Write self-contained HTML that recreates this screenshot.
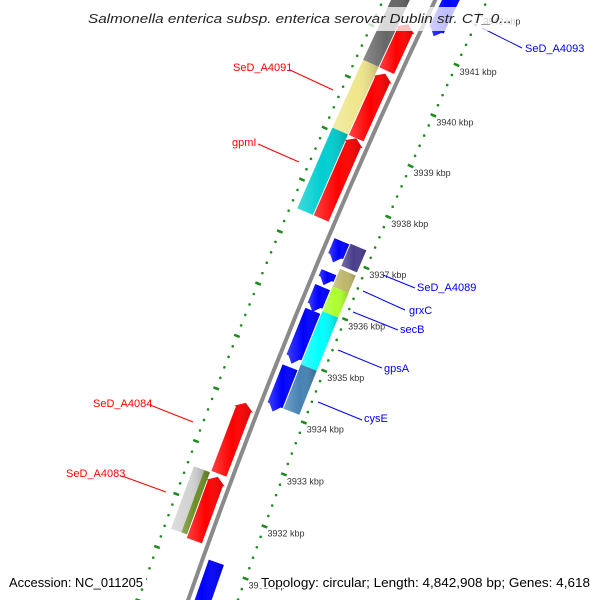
<!DOCTYPE html>
<html><head><meta charset="utf-8"><style>
html,body{margin:0;padding:0;background:#fff;width:600px;height:600px;overflow:hidden}
svg{display:block}
text{font-family:"Liberation Sans",sans-serif}
</style></head><body>
<svg id="map" width="600" height="600" viewBox="0 0 600 600" xmlns="http://www.w3.org/2000/svg">
<defs>
<linearGradient id="shade" x1="0" y1="0" x2="1" y2="0">
<stop offset="0" stop-color="#fff" stop-opacity="0.25"/><stop offset="0.5" stop-color="#fff" stop-opacity="0"/><stop offset="1" stop-color="#000" stop-opacity="0.2"/>
</linearGradient>
</defs>
<g id="rings"></g>
<g id="feats"></g>
<g id="labels"></g>
<rect x="84" y="7" width="432" height="24" fill="#fff" fill-opacity="0.75"/>
<text x="300" y="23" text-anchor="middle" font-size="13" font-style="italic" fill="#222" textLength="424" lengthAdjust="spacingAndGlyphs">Salmonella enterica subsp. enterica serovar Dublin str. CT_0...</text>
<rect x="6" y="570" width="140" height="18" fill="#fff"/>
<text x="9" y="587" font-size="13" fill="#000" textLength="134" lengthAdjust="spacingAndGlyphs">Accession: NC_011205</text>
<rect x="259" y="570" width="335" height="18" fill="#fff"/>
<text x="261" y="587" font-size="13" fill="#000" textLength="329" lengthAdjust="spacingAndGlyphs">Topology: circular; Length: 4,842,908 bp; Genes: 4,618</text>
</svg>
<script>
// ---- data ----
const fwdStarts = [3940.38, 3939.06, 3937.50, 3932.60, 3931.33];
const fwdEnds   = [3941.29, 3940.32, 3939.06, 3933.95, 3932.54];
const fwdCogStarts = [3940.38, 3939.06, 3937.50, 3931.39];
const fwdCogEnds   = [3941.70, 3940.38, 3939.06, 3932.57];
const fwdCogColors = ["#666666", "#f0e68c", "#00ced1", "#d3d3d3"];
const revStarts = [3941.29, 3936.86, 3936.42, 3935.90, 3934.90, 3933.98, 3929.40];
const revEnds   = [3942.30, 3937.27, 3936.67, 3936.38, 3935.92, 3934.83, 3931.10];
const revCogStarts = [3936.86, 3936.46, 3935.98, 3934.95, 3934.10];
const revCogEnds   = [3937.29, 3936.80, 3936.46, 3935.98, 3934.95];
const revCogColors = ["#483d8b", "#bdb76b", "#adff2f", "#00ffff", "#4682b4"];
const tickKbp = [3929, 3930, 3931, 3932, 3933, 3934, 3935, 3936, 3937, 3938, 3939, 3940, 3941, 3942];
const fwdLabels = ["SeD_A4091", "gpmI", "SeD_A4084", "SeD_A4083"];
const revLabels = ["SeD_A4093", "SeD_A4089", "grxC", "secB", "gpsA", "cysE"];

// ---- geometry (large circle arc) ----
const C = [5848, 2580];
const ref = [414, 45], refK = 3941;
const R = Math.hypot(ref[0]-C[0], ref[1]-C[1]);
const phi0 = Math.atan2(ref[1]-C[1], ref[0]-C[0]);
const dphi = 56 / R;
function pt(k, r){
  const p = phi0 + (k - refK) * dphi, rr = R - r;
  return [C[0] + rr*Math.cos(p), C[1] + rr*Math.sin(p)];
}
const NS = "http://www.w3.org/2000/svg";
function mk(tag, parent, attrs){
  const e = document.createElementNS(NS, tag);
  for (const a in attrs) e.setAttribute(a, attrs[a]);
  parent.appendChild(e); return e;
}
const rings = document.getElementById('rings');
const feats = document.getElementById('feats');
const labels = document.getElementById('labels');

{
  const a = pt(3929.0, 0), b = pt(3942.8, 0);
  const bb = mk('path', feats, {d:`M${a[0]},${a[1]} A${R},${R} 0 0 1 ${b[0]},${b[1]}`, fill:'none', stroke:'#8a8a8a', 'stroke-width':4});
  
  
}

[-47, 47].forEach(off => {
  for (let i = 0; i <= 70; i++) {
    const k = 3928.6 + i*0.2;
    const c = pt(k, off);
    if (c[1] < -5 || c[1] > 605) continue;
    const d = mk('circle', rings, {cx:c[0], cy:c[1], r:1.3, fill:'#1e8c1e'});
    
    
  }
  tickKbp.forEach(k => {
    const a = pt(k, off-3), b = pt(k, off+3);
    if (a[1] < -5 || a[1] > 605) return;
    const t = mk('line', rings, {x1:a[0], y1:a[1], x2:b[0], y2:b[1], stroke:'#1e8c1e', 'stroke-width':2.5});
    
    
    if (off > 0) {
      const p = pt(k, off);
      const tx = mk('text', rings, {x:p[0]+3, y:p[1]+10, 'font-size':9, fill:'#333'});
      tx.textContent = k + ' kbp';
      
      
    }
  });
});

function band(k1, k2, r1, r2, color, arrow, name){
  const A = 0.12;
  let pts;
  const rm = (r1+r2)/2;
  if (arrow === 'up') {
    const ke = Math.max(k1, k2 - A);
    pts = [pt(k1,r1), pt(ke,r1), pt(ke,r1-2), pt(k2,rm), pt(ke,r2+2), pt(ke,r2), pt(k1,r2)];
  } else if (arrow === 'down') {
    const ks = Math.min(k2, k1 + A);
    pts = [pt(k2,r1), pt(ks,r1), pt(ks,r1-2), pt(k1,rm), pt(ks,r2+2), pt(ks,r2), pt(k2,r2)];
  } else {
    pts = [pt(k1,r1), pt(k2,r1), pt(k2,r2), pt(k1,r2)];
  }
  const s = pts.map(p => p[0].toFixed(1)+','+p[1].toFixed(1)).join(' ');
  const g = mk('polygon', feats, {points:s, fill:color});
  
  
  const h = mk('polygon', feats, {points:s, fill:'url(#shade)'});
  
  
}

fwdStarts.forEach((s, i) => band(s, fwdEnds[i], -22, -6, '#ff0000', 'up', 'forward-gene'));
fwdCogStarts.forEach((s, i) => {
  if (i === 3) {
    band(s, fwdCogEnds[i], -40, -29, fwdCogColors[i], null, 'forward-cog');
    band(s, fwdCogEnds[i], -29, -23, '#6b8e23', null, 'forward-cog');
  } else band(s, fwdCogEnds[i], -40, -23, fwdCogColors[i], null, 'forward-cog');
});
revStarts.forEach((s, i) => band(s, revEnds[i], 22, 6, '#0000ff', 'down', 'reverse-gene'));
revCogStarts.forEach((s, i) => band(s, revCogEnds[i], 40, 23, revCogColors[i], null, 'reverse-cog'));

const fwdLab = [[233,71,290,70,333,90],[232,146,258,144,299,162],[93,407,150,405,193,422],[66,477,122,476,166,492]];
fwdLab.forEach((L, i) => {
  const l = mk('line', labels, {x1:L[2], y1:L[3], x2:L[4], y2:L[5], stroke:'#ff0000', 'stroke-width':1});
  
  
  const t = mk('text', labels, {x:L[0], y:L[1], 'font-size':11, fill:'#ff0000'});
  t.textContent = fwdLabels[i];
  
  
});
const revLab = [[525,52,482,28,522,48],[417,291,383,275,415,288],[409,314,363,291,405,310],[400,333,353,312,398,330],[384,372,338,350,382,368],[364,422,318,402,362,420]];
revLab.forEach((L, i) => {
  const l = mk('line', labels, {x1:L[2], y1:L[3], x2:L[4], y2:L[5], stroke:'#0000ff', 'stroke-width':1});
  
  
  const t = mk('text', labels, {x:L[0], y:L[1], 'font-size':11, fill:'#0000ff'});
  t.textContent = revLabels[i];
  
  
});
</script>
</body></html>
